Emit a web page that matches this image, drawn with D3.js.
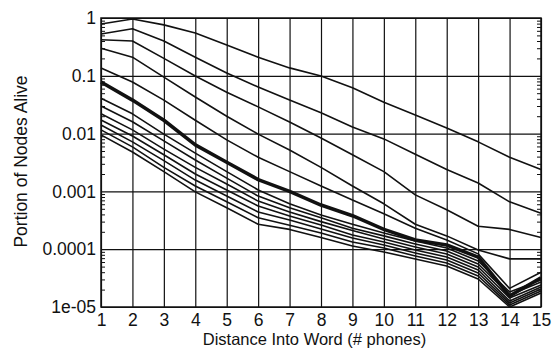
<!DOCTYPE html>
<html>
<head>
<meta charset="utf-8">
<script src="https://cdn.jsdelivr.net/npm/d3@7"></script>
<style>
  body { margin: 0; background: #fff; }
  .canvas text { font-family: "Liberation Sans", Arial, Helvetica, sans-serif; fill: #111; }
</style>
</head>
<body>
<div class="canvas"></div>
<script>
// distance into word (# phones)
const distances = [1, 2, 3, 4, 5, 6, 7, 8, 9, 10, 11, 12, 13, 14, 15];

// portion of nodes alive, one array per curve (top to bottom)
const line1 = [0.79, 0.96, 0.76, 0.55, 0.34, 0.21, 0.137, 0.099, 0.062, 0.035, 0.021, 0.0125, 0.0072, 0.0039, 0.0024];
const line2 = [0.53, 0.65, 0.40, 0.21, 0.112, 0.064, 0.038, 0.023, 0.013, 0.0081, 0.0044, 0.0024, 0.0014, 0.00066, 0.00042];
const line3 = [0.42, 0.40, 0.20, 0.099, 0.052, 0.029, 0.0159, 0.0084, 0.0043, 0.0022, 0.00087, 0.00048, 0.00025, 0.00022, 0.00016];
const line4 = [0.30, 0.21, 0.095, 0.043, 0.020, 0.0098, 0.0052, 0.0026, 0.00124, 0.00061, 0.00027, 0.00017, 0.000097, 0.000068, 0.000068];
const line5 = [0.137, 0.078, 0.038, 0.017, 0.0078, 0.0039, 0.0022, 0.00124, 0.00071, 0.00041, 0.00023, 0.000144, 0.000083, 0.000021, 0.00004];
const boldLine = [0.078, 0.038, 0.017, 0.0064, 0.0032, 0.0016, 0.001, 0.00058, 0.00038, 0.00022, 0.000144, 0.000118, 0.000073, 0.0000155, 0.000032];
const line7 = [0.041, 0.022, 0.0098, 0.0046, 0.0022, 0.00106, 0.00061, 0.00039, 0.00027, 0.00019, 0.000139, 0.000105, 0.0000625, 0.0000182, 0.0000293];
const line8 = [0.030, 0.016, 0.0075, 0.0035, 0.0017, 0.00083, 0.00052, 0.00035, 0.00023, 0.00017, 0.000123, 0.000093, 0.0000555, 0.0000161, 0.0000271];
const line9 = [0.022, 0.0116, 0.0054, 0.0026, 0.00134, 0.00068, 0.00044, 0.0003, 0.00021, 0.00015, 0.000109, 0.0000826, 0.0000492, 0.0000143, 0.000024];
const line10 = [0.0172, 0.0091, 0.0043, 0.002, 0.00106, 0.00056, 0.000375, 0.000262, 0.000176, 0.000133, 0.0000969, 0.0000733, 0.0000437, 0.0000127, 0.0000222];
const line11 = [0.0141, 0.0072, 0.0034, 0.00157, 0.00083, 0.00044, 0.00032, 0.000224, 0.000156, 0.000118, 0.000086, 0.000065, 0.0000388, 0.0000117, 0.0000205];
const line12 = [0.0116, 0.0059, 0.0026, 0.00124, 0.00066, 0.00035, 0.00026, 0.00019, 0.000133, 0.000105, 0.0000763, 0.0000577, 0.0000344, 0.0000108, 0.0000189];
const line13 = [0.0095, 0.0048, 0.0022, 0.00098, 0.00052, 0.00027, 0.00022, 0.00016, 0.000114, 0.0000895, 0.0000677, 0.0000512, 0.0000305, 0.00001, 0.0000175];

// axis ticks
const yTickValues = [1, 0.1, 0.01, 0.001, 0.0001, 0.00001];
const yTickLabels = ['1', '0.1', '0.01', '0.001', '0.0001', '1e-05'];

const series = [
    {values: line1, bold: false},
    {values: line2, bold: false},
    {values: line3, bold: false},
    {values: line4, bold: false},
    {values: line5, bold: false},
    {values: boldLine, bold: true},
    {values: line7, bold: false},
    {values: line8, bold: false},
    {values: line9, bold: false},
    {values: line10, bold: false},
    {values: line11, bold: false},
    {values: line12, bold: false},
    {values: line13, bold: false}
];

const svg = d3.select('.canvas')
    .append('svg')
    .attr('width', 552)
    .attr('height', 349);

//create margins and dimensions
const margin = {top: 18, right: 11, bottom: 42, left: 101};
const graphWidth = 552 - margin.left - margin.right;
const graphHeight = 349 - margin.top - margin.bottom;

const graph = svg.append('g')
    .attr('transform', `translate(${margin.left}, ${margin.top})`);

// scales
const x = d3.scaleLinear()
    .domain([1, 15])
    .range([0, graphWidth]);

const y = d3.scaleLog()
    .domain([0.00001, 1])
    .range([graphHeight, 0]);

// minor tick values inside each decade
const minorTicks = [];
yTickValues.slice(1).forEach(d => {
    for (let k = 2; k <= 9; k++) minorTicks.push(d * k);
});

// grid lines
const xGrid = graph.append('g')
    .attr('transform', `translate(0, ${graphHeight})`)
    .call(d3.axisBottom(x).tickValues(distances).tickSize(-graphHeight).tickFormat(''));

const yGrid = graph.append('g')
    .call(d3.axisLeft(y).tickValues(yTickValues).tickSize(-graphWidth).tickFormat(''));

[xGrid, yGrid].forEach(g => {
    g.select('.domain').remove();
    g.selectAll('line').attr('stroke', '#111').attr('stroke-width', 1.2);
});

// minor ticks left and right
graph.append('g')
    .call(d3.axisLeft(y).tickValues(minorTicks).tickSize(-4).tickFormat(''))
    .call(g => g.select('.domain').remove())
    .selectAll('line').attr('stroke', '#111');

graph.append('g')
    .attr('transform', `translate(${graphWidth}, 0)`)
    .call(d3.axisRight(y).tickValues(minorTicks).tickSize(-4).tickFormat(''))
    .call(g => g.select('.domain').remove())
    .selectAll('line').attr('stroke', '#111');

// frame
graph.append('rect')
    .attr('x', 0)
    .attr('y', 0)
    .attr('width', graphWidth)
    .attr('height', graphHeight)
    .attr('fill', 'none')
    .attr('stroke', '#111')
    .attr('stroke-width', 1.5);

//create and call the axes (labels only)
const xAxisGroup = graph.append('g')
    .attr('transform', `translate(0, ${graphHeight})`)
    .call(d3.axisBottom(x).tickValues(distances).tickSize(0).tickPadding(7).tickFormat(d3.format('d')));

const yAxisGroup = graph.append('g')
    .call(d3.axisLeft(y).tickValues(yTickValues).tickSize(0).tickPadding(5)
        .tickFormat((d, i) => yTickLabels[i]));

[xAxisGroup, yAxisGroup].forEach(g => {
    g.select('.domain').remove();
    g.selectAll('text')
        .attr('font-size', 17.5)
        .attr('font-family', '"Liberation Sans", Arial, sans-serif')
        .attr('fill', '#111');
});

// the curves
const line = d3.line()
    .x((d, i) => x(distances[i]))
    .y(d => y(d));

graph.selectAll('path.curve')
    .data(series)
    .enter()
    .append('path')
    .attr('class', 'curve')
    .attr('d', d => line(d.values))
    .attr('fill', 'none')
    .attr('stroke', '#111')
    .attr('stroke-linejoin', 'round')
    .attr('stroke-width', d => d.bold ? 3.6 : 1.6);

// axis titles
svg.append('text')
    .attr('x', 314.5)
    .attr('y', 345)
    .attr('text-anchor', 'middle')
    .attr('font-size', 16.5)
    .text('Distance Into Word (# phones)');

svg.append('text')
    .attr('transform', `translate(26.5, ${margin.top + graphHeight / 2 - 1}) rotate(-90)`)
    .attr('text-anchor', 'middle')
    .attr('font-size', 17.5)
    .text('Portion of Nodes Alive');
</script>
</body>
</html>
